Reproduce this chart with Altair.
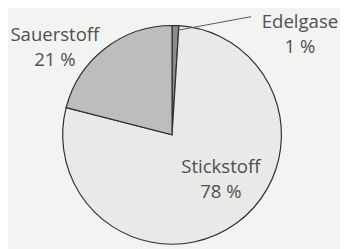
import altair as alt
import pandas as pd

categories = ["Edelgase", "Stickstoff", "Sauerstoff"]
values = [1, 78, 21]
pct_labels = ["1 %", "78 %", "21 %"]
colors = ["#8c8c8a", "#e9e9e7", "#bdbdbb"]

df = pd.DataFrame({"name": categories, "value": values, "pct": pct_labels,
                   "order": list(range(len(categories)))})

CX, CY, R = 168, 127, 112
FONT = "Open Sans"
TXT = "#505050"

arc = alt.Chart(df).mark_arc(outerRadius=R, stroke="#2e2e2e", strokeWidth=1.2).encode(
    theta=alt.Theta("value:Q", stack=True),
    color=alt.Color("name:N", scale=alt.Scale(domain=categories, range=colors), legend=None),
    order=alt.Order("order:Q"),
    x=alt.value(CX), y=alt.value(CY),
)

# label anchor (center x, first-line baseline y, line height) in chart pixels
label_pos = {"Sauerstoff": (48, 31, 26), "Edelgase": (299, 18, 25), "Stickstoff": (218, 166, 26)}

layers = [arc]
leader = alt.Chart(df).mark_rule(color="#555555", strokeWidth=1).encode(
    x=alt.value(173), y=alt.value(20), x2=alt.value(249), y2=alt.value(6)
).transform_filter(alt.datum.name == "Edelgase")
layers.append(leader)

for name, (lx, ly, lh) in label_pos.items():
    base = alt.Chart(df).transform_filter(alt.datum.name == name)
    layers.append(base.mark_text(font=FONT, fontSize=19, color=TXT, align="center",
                                 baseline="alphabetic").encode(
        text="name:N", x=alt.value(lx), y=alt.value(ly)))
    layers.append(base.mark_text(font=FONT, fontSize=19, color=TXT, align="center",
                                 baseline="alphabetic").encode(
        text="pct:N", x=alt.value(lx), y=alt.value(ly + lh)))

chart = alt.layer(*layers).properties(
    width=340, height=241, autosize=alt.AutoSizeParams(type="none"), padding=0,
    background="#f3f3f1"
).configure_view(stroke=None)

chart.save("out.html", embed_options={"renderer": "svg", "actions": False})
